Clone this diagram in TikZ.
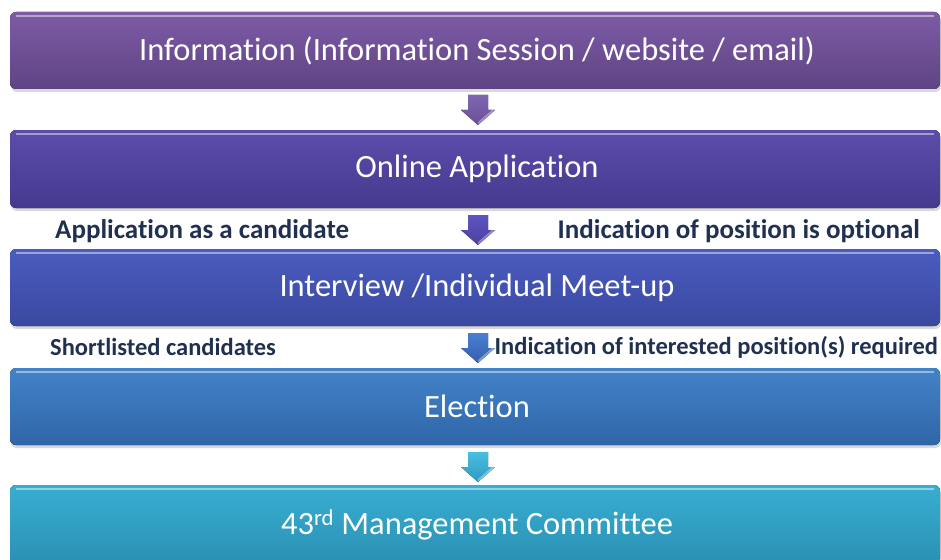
\documentclass[tikz,border=0pt]{standalone}
\usepackage{fontspec}
\setmainfont[Ligatures=CommonOff]{Carlito}
\usetikzlibrary{shadows}
\definecolor{lbl}{HTML}{1F3050}
\definecolor{b1t}{HTML}{7D5BA6}\definecolor{b1b}{HTML}{5F4483}
\definecolor{b2t}{HTML}{5B4DAA}\definecolor{b2b}{HTML}{45398F}
\definecolor{b3t}{HTML}{4A5CC0}\definecolor{b3b}{HTML}{3A489F}
\definecolor{b4t}{HTML}{4283C8}\definecolor{b4b}{HTML}{2F66A8}
\definecolor{b5t}{HTML}{38AED2}\definecolor{b5b}{HTML}{2A90B2}
\definecolor{a1t}{HTML}{8066B0}\definecolor{a1b}{HTML}{6A4F98}
\definecolor{a2t}{HTML}{5F55C0}\definecolor{a2b}{HTML}{4A40A0}
\definecolor{a3t}{HTML}{4A7FD0}\definecolor{a3b}{HTML}{3460B0}
\definecolor{a4t}{HTML}{4ABEE0}\definecolor{a4b}{HTML}{2E9AC0}
\tikzset{
  lbltext/.style={text=lbl, font=\bfseries\fontsize{27}{30}\selectfont, inner sep=0pt},
  lbltextsm/.style={text=lbl, font=\bfseries\fontsize{24.5}{28}\selectfont, inner sep=0pt},
}
\newcommand{\stage}[6]{% name, ytop, ybot, topcol, botcol, text
  \fill[rounded corners=6pt, top color=#4, bottom color=#5, drop shadow={shadow xshift=1pt, shadow yshift=-3pt, opacity=0.3}] (10,#2) rectangle (940,#3);
  \draw[white, opacity=0.45, line width=2.5pt] (16,#2+4) -- (934,#2+4);
  \node[text=white, font=\fontsize{32.5}{36}\selectfont] (#1) at (477,{(#2+#3)/2}) {#6};
}
\newcommand{\blockarrow}[4]{% name, ytop, topcol, botcol
  \coordinate (#1) at (478,#2);
  \fill[top color=#3, bottom color=#4] (468,#2) -- (488,#2) -- (488,#2+15) -- (495,#2+15) -- (478,#2+30) -- (461,#2+15) -- (468,#2+15) -- cycle;
  \fill[white, opacity=0.35] (478,#2+30) -- (495,#2+15) -- (492,#2+15) -- (478,#2+27) -- cycle;
}
\begin{document}
\begin{tikzpicture}[x=1pt,y=-1pt]
\useasboundingbox (0,0) rectangle (941,559);
\stage{s1}{12}{89}{b1t}{b1b}{Information (Information Session / website / email)}
\stage{s2}{130}{208}{b2t}{b2b}{Online Application}
\stage{s3}{249}{326}{b3t}{b3b}{Interview /Individual Meet-up}
\stage{s4}{368}{445}{b4t}{b4b}{Election}
\stage{s5}{485}{565}{b5t}{b5b}{43\textsuperscript{rd} Management Committee}
\blockarrow{a1}{95}{a1t}{a1b}
\blockarrow{a2}{215}{a2t}{a2b}
\blockarrow{a3}{333}{a3t}{a3b}
\blockarrow{a4}{452}{a4t}{a4b}
\node[lbltext, anchor=west] (l1) at (55,231) {Application as a candidate};
\node[lbltext, anchor=east] (l2) at (920,231) {Indication of position is optional};
\node[lbltextsm, anchor=west] (l3) at (50,347) {Shortlisted candidates};
\node[lbltextsm, anchor=east] (l4) at (938,347) {Indication of interested position(s) required};
\end{tikzpicture}
\end{document}
